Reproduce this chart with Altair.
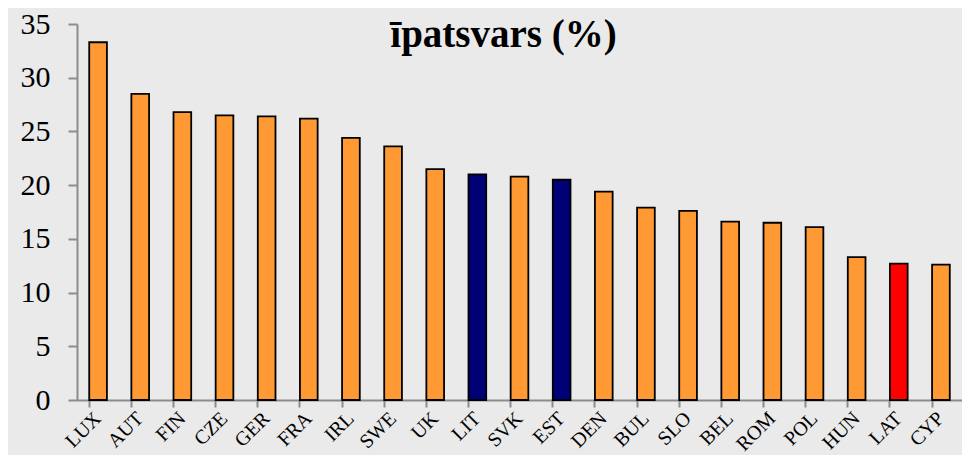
import altair as alt
import pandas as pd

countries = ["LUX", "AUT", "FIN", "CZE", "GER", "FRA", "IRL", "SWE", "UK", "LIT", "SVK",
             "EST", "DEN", "BUL", "SLO", "BEL", "ROM", "POL", "HUN", "LAT", "CYP"]
values = [33.3, 28.5, 26.8, 26.5, 26.4, 26.2, 24.4, 23.6, 21.5, 21.0, 20.8,
          20.5, 19.4, 17.9, 17.6, 16.6, 16.5, 16.1, 13.3, 12.7, 12.6]
ORANGE = "#FF9933"
NAVY = "#000077"
RED = "#FF0000"
colors = [ORANGE] * 9 + [NAVY, ORANGE, NAVY] + [ORANGE] * 7 + [RED, ORANGE]
y_ticks = [0, 5, 10, 15, 20, 25, 30, 35]

df = pd.DataFrame({"country": countries, "value": values, "color": colors})

FONT = "Times New Roman, Liberation Serif, serif"

chart = (
    alt.Chart(df)
    .mark_bar(stroke="black", strokeWidth=1.8)
    .encode(
        x=alt.X("country:N", sort=None, title=None,
                scale=alt.Scale(paddingInner=0.58, paddingOuter=0.29),
                axis=alt.Axis(labelAngle=-45, labelAlign="right", labelBaseline="middle",
                              labelFont=FONT, labelFontSize=20, labelColor="black",
                              labelPadding=8, tickSize=7, bandPosition=0,
                              domainColor="#8c8c8c", tickColor="#8c8c8c",
                              domainWidth=2, tickWidth=2)),
        y=alt.Y("value:Q", title=None,
                scale=alt.Scale(domain=[0, 35], nice=False),
                axis=alt.Axis(values=y_ticks, grid=False, labelFont=FONT, labelFontSize=30,
                              labelColor="black", labelPadding=18, tickSize=9,
                              domainColor="#8c8c8c", tickColor="#8c8c8c",
                              domainWidth=2, tickWidth=2)),
        color=alt.Color("color:N", scale=None),
    )
    .properties(
        width=885,
        height=376,
        background="#eaeaea",
        autosize=alt.AutoSizeParams(type="none"),
        padding={"left": 69, "top": 16, "right": 0, "bottom": 55},
        title=alt.Title("īpatsvars (%)", font=FONT, fontSize=39, fontWeight="bold",
                        color="black", anchor="middle", frame="group",
                        baseline="alphabetic", offset=-77, dx=-16),
    )
    .configure_view(stroke=None)
)

chart.save("out.html", embed_options={"renderer": "svg", "actions": False})
